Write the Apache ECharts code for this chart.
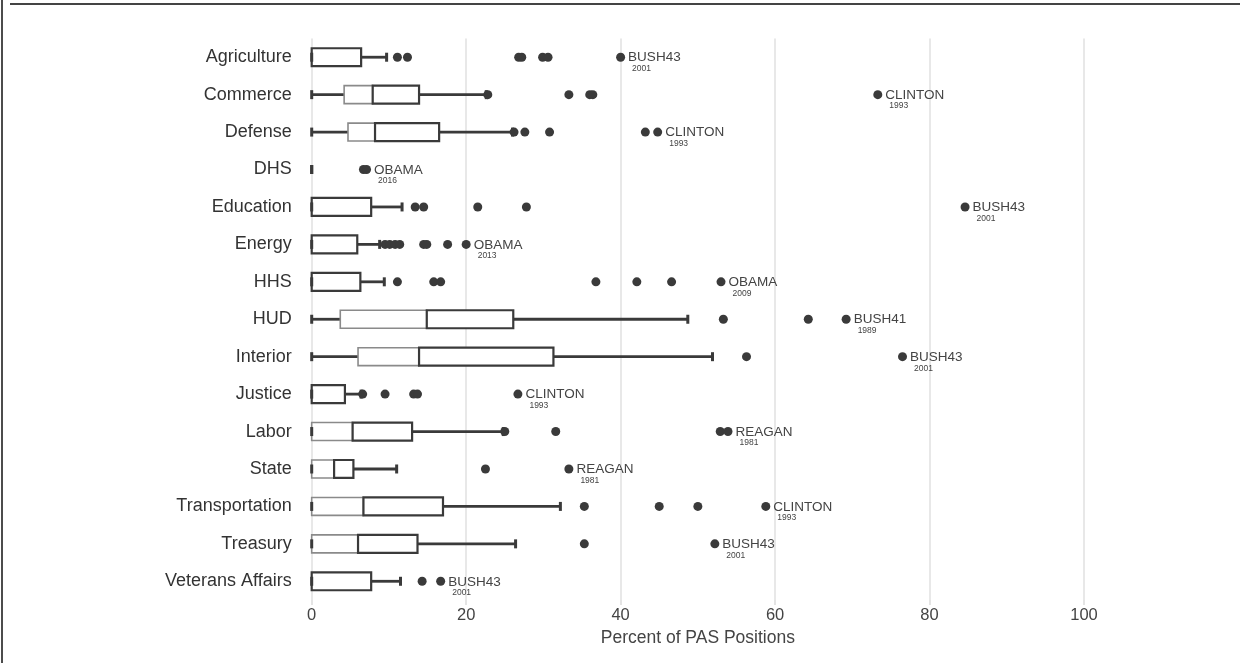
<!DOCTYPE html>
<html>
<head>
<meta charset="utf-8">
<script src="https://cdn.jsdelivr.net/npm/echarts@6/dist/echarts.min.js"></script>
<style>
html,body{margin:0;padding:0;background:#fff;}
#chart{width:1247px;height:663px;}
</style>
</head>
<body>
<div id="chart"></div>
<script>
const categories = ['Agriculture','Commerce','Defense','DHS','Education','Energy','HHS','HUD','Interior','Justice','Labor','State','Transportation','Treasury','Veterans Affairs'];
const whiskerLow  = [0, 0, 0, 0, 0, 0, 0, 0, 0, 0, 0, 0, 0, 0, 0];
const q1          = [0, 4.2, 4.7, 0, 0, 0, 0, 3.7, 6.0, 0, 0, 0, 0, 0, 0];
const medians     = [0, 7.9, 8.2, 0, 0, 0, 0, 14.9, 13.9, 0, 5.3, 2.9, 6.7, 6.0, 0];
const q3          = [6.4, 13.9, 16.5, 0, 7.7, 5.9, 6.3, 26.1, 31.3, 4.3, 13.0, 5.4, 17.0, 13.7, 7.7];
const whiskerHigh = [9.7, 22.6, 26.0, 0, 11.7, 8.8, 9.4, 48.7, 51.9, 6.4, 24.8, 11.0, 32.2, 26.4, 11.5];
const outliers = [
  [11.1, 12.4, 26.8, 27.2, 29.9, 30.6, 40.0],
  [22.8, 33.3, 36.0, 36.4, 73.3],
  [26.2, 27.6, 30.8, 43.2, 44.8],
  [6.7, 7.1],
  [13.4, 14.5, 21.5, 27.8, 84.6],
  [9.5, 10.1, 10.8, 11.4, 14.5, 14.9, 17.6, 20.0],
  [11.1, 15.8, 16.7, 36.8, 42.1, 46.6, 53.0],
  [53.3, 64.3, 69.2],
  [56.3, 76.5],
  [6.6, 9.5, 13.2, 13.7, 26.7],
  [25.0, 31.6, 52.9, 53.9],
  [22.5, 33.3],
  [35.3, 45.0, 50.0, 58.8],
  [35.3, 52.2],
  [14.3, 16.7]
];
const labelNames = ['BUSH43','CLINTON','CLINTON','OBAMA','BUSH43','OBAMA','OBAMA','BUSH41','BUSH43','CLINTON','REAGAN','REAGAN','CLINTON','BUSH43','BUSH43'];
const labelYears = ['2001','1993','1993','2016','2001','2013','2009','1989','2001','1993','1981','1981','1993','2001','2001'];
const xTicks = [0, 20, 40, 60, 80, 100];

const FONT = 'Liberation Sans, Arial, sans-serif';
const DARK = '#3a3a3a';

const boxData = categories.map((c, i) => [i, whiskerLow[i], q1[i], medians[i], q3[i], whiskerHigh[i]]);

const scatterData = [];
outliers.forEach((arr, i) => {
  const maxV = Math.max(...arr);
  arr.forEach(v => {
    const item = { value: [v, i] };
    if (v === maxV) {
      item.label = {
        show: true,
        position: 'right',
        distance: 3,
        offset: [0, 5],
        formatter: '{n|' + labelNames[i] + '}\n{y|' + labelYears[i] + '}',
        rich: {
          n: { fontFamily: FONT, fontSize: 13.5, color: '#444', lineHeight: 13 },
          y: { fontFamily: FONT, fontSize: 8.5, color: '#444', lineHeight: 9, padding: [0, 0, 0, 4] }
        }
      };
    }
    scatterData.push(item);
  });
});

function renderBox(params, api) {
  const i = api.value(0);
  const lo = api.coord([api.value(1), i]);
  const pq1 = api.coord([api.value(2), i]);
  const pmed = api.coord([api.value(3), i]);
  const pq3 = api.coord([api.value(4), i]);
  const hi = api.coord([api.value(5), i]);
  const y = lo[1];
  const band = api.size([0, 1])[1];
  const h = band * 0.48;
  const capH = 9;
  const children = [];
  children.push({ type: 'line', shape: { x1: lo[0], y1: y, x2: pq1[0], y2: y }, style: { stroke: DARK, lineWidth: 2.8 } });
  children.push({ type: 'line', shape: { x1: pq3[0], y1: y, x2: hi[0], y2: y }, style: { stroke: DARK, lineWidth: 2.8 } });
  if (pmed[0] > pq1[0]) {
    children.push({ type: 'rect', shape: { x: pq1[0], y: y - h / 2, width: pmed[0] - pq1[0], height: h }, style: { fill: '#fff', stroke: '#8a8a8a', lineWidth: 1.6 } });
  }
  if (pq3[0] > pmed[0]) {
    children.push({ type: 'rect', shape: { x: pmed[0], y: y - h / 2, width: pq3[0] - pmed[0], height: h }, style: { fill: '#fff', stroke: DARK, lineWidth: 2.2 } });
  }
  children.push({ type: 'line', shape: { x1: lo[0], y1: y - capH / 2, x2: lo[0], y2: y + capH / 2 }, style: { stroke: DARK, lineWidth: 3 } });
  children.push({ type: 'line', shape: { x1: hi[0], y1: y - capH / 2, x2: hi[0], y2: y + capH / 2 }, style: { stroke: DARK, lineWidth: 3 } });
  return { type: 'group', children: children };
}

const chart = echarts.init(document.getElementById('chart'), null, { renderer: 'canvas' });
chart.setOption({
  animation: false,
  backgroundColor: '#fff',
  textStyle: { fontFamily: FONT },
  graphic: [
    { type: 'line', shape: { x1: 10, y1: 4, x2: 1240, y2: 4 }, style: { stroke: '#444', lineWidth: 2 }, silent: true },
    { type: 'line', shape: { x1: 2, y1: 0, x2: 2, y2: 663 }, style: { stroke: '#111', lineWidth: 1.5 }, silent: true }
  ],
  grid: { left: 311.7, top: 38.5, width: 772.3, height: 561.5, containLabel: false },
  xAxis: {
    type: 'value',
    min: 0,
    max: 100,
    interval: 20,
    axisLine: { show: false },
    axisTick: { show: true, length: 5, lineStyle: { color: '#dcdcdc', width: 1.5 } },
    splitLine: { show: true, lineStyle: { color: '#e0e0e0', width: 1.5 } },
    axisLabel: { fontFamily: FONT, fontSize: 16.5, color: '#444', margin: 7,
      formatter: v => (xTicks.indexOf(v) >= 0 ? String(v) : '') },
    name: 'Percent of PAS Positions',
    nameLocation: 'middle',
    nameGap: 29,
    nameTextStyle: { fontFamily: FONT, fontSize: 17.5, color: '#444' }
  },
  yAxis: {
    type: 'category',
    data: categories,
    inverse: true,
    axisLine: { show: false },
    axisTick: { show: false },
    splitLine: { show: false },
    axisLabel: { fontFamily: FONT, fontSize: 18, color: '#333', margin: 20 }
  },
  series: [
    {
      type: 'custom',
      renderItem: renderBox,
      data: boxData,
      encode: { x: [1, 2, 3, 4, 5], y: 0 },
      clip: false,
      z: 3
    },
    {
      type: 'scatter',
      data: scatterData,
      symbolSize: 9,
      itemStyle: { color: DARK, opacity: 1 },
      z: 4
    }
  ]
});
</script>
</body>
</html>
